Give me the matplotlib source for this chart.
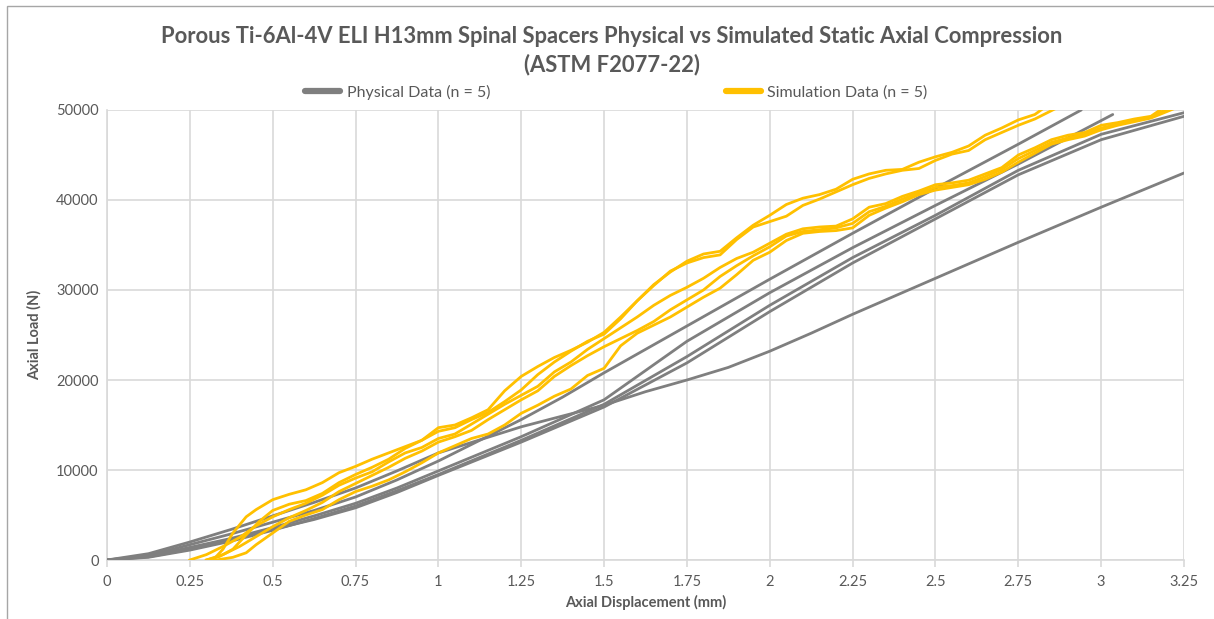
import numpy as np
import matplotlib.pyplot as plt
from matplotlib.lines import Line2D
from matplotlib.patches import Rectangle

plt.rcParams['font.family'] = ['Lato', 'DejaVu Sans']

TXT = '#595959'
GRID = '#d9d9d9'
GRAY = '#7f7f7f'
GOLD = '#ffc000'

# Physical test curves (displacement mm, load N)
phys_a_x = [0, 0.125, 0.25, 0.375, 0.5, 0.625, 0.75, 0.875, 1.0, 1.125, 1.25, 1.375, 1.5, 1.625, 1.75, 2.0, 2.25, 2.5, 2.75, 2.94]
phys_a_y = [0, 500, 1700, 2900, 4200, 5500, 7000, 8900, 11000, 13300, 15600, 18100, 20800, 23400, 26000, 31200, 36300, 41300, 46200, 50000]

phys_b_x = [0, 0.125, 0.25, 0.375, 0.5, 0.625, 0.75, 0.875, 1.0, 1.25, 1.5, 1.75, 2.0, 2.25, 2.5, 2.75, 3.035]
phys_b_y = [0, 400, 1400, 2400, 3600, 4900, 6300, 8000, 9900, 13700, 17800, 24300, 29700, 34700, 39400, 44000, 49500]

phys_c_x = [0, 0.125, 0.25, 0.375, 0.5, 0.625, 0.75, 0.875, 1.0, 1.25, 1.5, 1.75, 2.0, 2.25, 2.5, 2.75, 3.0, 3.25]
phys_c_y = [0, 300, 1100, 2100, 3300, 4600, 6000, 7700, 9500, 13300, 17300, 22600, 28300, 33600, 38300, 43300, 47300, 49700]

phys_d_x = [0, 0.125, 0.25, 0.375, 0.5, 0.625, 0.75, 0.875, 1.0, 1.25, 1.5, 1.75, 2.0, 2.25, 2.5, 2.75, 3.0, 3.25]
phys_d_y = [0, 350, 1200, 2200, 3400, 4500, 5800, 7500, 9400, 13100, 17000, 21900, 27600, 33000, 37900, 42800, 46700, 49300]

phys_e_x = [0, 0.125, 0.25, 0.375, 0.5, 0.625, 0.75, 0.875, 1.0, 1.25, 1.5, 1.625, 1.75, 1.875, 2.0, 2.125, 2.25, 2.5, 2.75, 3.0, 3.25]
phys_e_y = [0, 700, 2000, 3400, 4900, 6400, 8000, 9900, 11900, 14800, 17200, 18700, 20000, 21400, 23200, 25200, 27300, 31300, 35300, 39200, 43000]

# Simulation curves
sim1_x = [0.32, 0.35, 0.38, 0.42, 0.45, 0.5, 0.55, 0.6, 0.65, 0.7, 0.75, 0.8, 0.85, 0.9, 0.95, 1.0, 1.05, 1.1, 1.15, 1.2,
          1.25, 1.3, 1.35, 1.4, 1.45, 1.5, 1.55, 1.6, 1.65, 1.7, 1.75, 1.8, 1.85, 1.9, 1.95, 2.0, 2.05, 2.1, 2.15, 2.2,
          2.25, 2.3, 2.35, 2.4, 2.45, 2.5, 2.55, 2.6, 2.65, 2.7, 2.75, 2.8, 2.83]
sim1_y = [0, 1200, 3000, 4800, 5600, 6700, 7300, 7800, 8600, 9700, 10400, 11200, 11900, 12600, 13300, 14700, 15000, 15800, 16700, 18800,
          20400, 21500, 22500, 23300, 24200, 25300, 27000, 28800, 30600, 32000, 33200, 34000, 34300, 35800, 37200, 38300, 39500, 40200, 40600, 41200,
          42300, 42900, 43300, 43400, 44200, 44800, 45300, 46000, 47200, 48000, 48900, 49500, 50300]

sim2_x = [0.3, 0.34, 0.38, 0.42, 0.46, 0.5, 0.55, 0.6, 0.65, 0.7, 0.75, 0.8, 0.85, 0.9, 0.95, 1.0, 1.05, 1.1, 1.15, 1.2,
          1.25, 1.3, 1.35, 1.4, 1.45, 1.5, 1.55, 1.6, 1.65, 1.7, 1.75, 1.8, 1.85, 1.9, 1.95, 2.0, 2.05, 2.1, 2.15, 2.2,
          2.25, 2.3, 2.35, 2.4, 2.45, 2.5, 2.55, 2.6, 2.65, 2.7, 2.75, 2.8, 2.87]
sim2_y = [0, 400, 1200, 2800, 4300, 5500, 6200, 6600, 7400, 8600, 9500, 10300, 11200, 12400, 13300, 14300, 14700, 15600, 16400, 17600,
          18900, 20600, 22000, 23200, 24300, 25100, 26800, 28800, 30500, 32100, 33000, 33600, 33900, 35600, 37000, 37600, 38200, 39400, 40100, 40900,
          41700, 42400, 42900, 43300, 43500, 44400, 45100, 45500, 46700, 47500, 48300, 49000, 50300]

sim3_x = [0.25, 0.3, 0.35, 0.4, 0.45, 0.5, 0.55, 0.6, 0.65, 0.7, 0.75, 0.8, 0.85, 0.9, 0.95, 1.0, 1.05, 1.1, 1.15, 1.2,
          1.25, 1.3, 1.35, 1.4, 1.45, 1.5, 1.55, 1.6, 1.65, 1.7, 1.75, 1.8, 1.85, 1.9, 1.95, 2.0, 2.05, 2.1, 2.15, 2.2,
          2.25, 2.3, 2.35, 2.4, 2.45, 2.5, 2.55, 2.6, 2.65, 2.7, 2.75, 2.8, 2.85, 2.9, 2.95, 3.0, 3.05, 3.1, 3.15, 3.19]
sim3_y = [0, 600, 1500, 2500, 3800, 4800, 5600, 6300, 7200, 8300, 9100, 9800, 10900, 11900, 12500, 13500, 14000, 15100, 16200, 17300,
          18300, 19300, 20900, 22000, 23400, 24600, 25800, 27000, 28300, 29400, 30300, 31300, 32500, 33500, 34200, 35200, 36200, 36800, 37000, 37100,
          37900, 39200, 39600, 40400, 41000, 41700, 41900, 42200, 42900, 43600, 45000, 45800, 46700, 47200, 47500, 48300, 48600, 49000, 49300, 50300]

sim4_x = [0.3, 0.35, 0.4, 0.45, 0.5, 0.55, 0.6, 0.65, 0.7, 0.75, 0.8, 0.85, 0.9, 0.95, 1.0, 1.05, 1.1, 1.15, 1.2,
          1.25, 1.3, 1.35, 1.4, 1.45, 1.5, 1.55, 1.6, 1.65, 1.7, 1.75, 1.8, 1.85, 1.9, 1.95, 2.0, 2.05, 2.1, 2.15, 2.2,
          2.25, 2.3, 2.35, 2.4, 2.45, 2.5, 2.55, 2.6, 2.65, 2.7, 2.75, 2.8, 2.85, 2.9, 2.95, 3.0, 3.05, 3.1, 3.15, 3.21]
sim4_y = [0, 600, 1500, 2600, 3700, 4700, 5500, 6400, 7600, 8500, 9400, 10300, 11300, 12100, 13100, 13700, 14400, 15600, 16700,
          17800, 18800, 20400, 21600, 22700, 23700, 24600, 25500, 26500, 27800, 28900, 30000, 31500, 32700, 33800, 34800, 36000, 36500, 36700, 36900,
          37400, 38700, 39300, 40100, 40800, 41400, 41600, 41900, 42600, 43400, 44600, 45500, 46400, 46900, 47300, 48000, 48400, 48900, 49200, 50300]

sim5_x = [0.33, 0.38, 0.42, 0.45, 0.5, 0.55, 0.6, 0.65, 0.7, 0.75, 0.8, 0.85, 0.9, 0.95, 1.0, 1.05, 1.1, 1.15, 1.2,
          1.25, 1.3, 1.35, 1.4, 1.45, 1.5, 1.55, 1.6, 1.65, 1.7, 1.75, 1.8, 1.85, 1.9, 1.95, 2.0, 2.05, 2.1, 2.15, 2.2,
          2.25, 2.3, 2.35, 2.4, 2.45, 2.5, 2.55, 2.6, 2.65, 2.7, 2.75, 2.8, 2.85, 2.9, 2.95, 3.0, 3.05, 3.1, 3.15, 3.23]
sim5_y = [0, 300, 800, 1700, 3000, 4300, 5000, 5600, 6700, 7600, 8200, 8900, 9800, 10800, 11900, 12700, 13500, 14000, 15000,
          16300, 17200, 18200, 19000, 20500, 21300, 23800, 25200, 26100, 27000, 28100, 29200, 30200, 31700, 33300, 34200, 35500, 36300, 36500, 36600,
          36900, 38300, 39100, 39800, 40600, 41100, 41400, 41700, 42300, 43100, 44200, 45200, 46200, 46700, 47100, 47800, 48300, 48700, 49100, 50300]

physical = [(phys_a_x, phys_a_y), (phys_b_x, phys_b_y), (phys_c_x, phys_c_y), (phys_d_x, phys_d_y), (phys_e_x, phys_e_y)]
simulated = [(sim1_x, sim1_y), (sim2_x, sim2_y), (sim3_x, sim3_y), (sim4_x, sim4_y), (sim5_x, sim5_y)]

fig = plt.figure(figsize=(12.14, 6.19), dpi=100)
ax = fig.add_axes([107 / 1214, 59 / 619, 1077 / 1214, 450 / 619])

for xs, ys in physical:
    ax.plot(xs, ys, color=GRAY, lw=2.0, solid_capstyle='round', zorder=3)
for xs, ys in simulated:
    ax.plot(xs, ys, color=GOLD, lw=2.0, solid_joinstyle='round', zorder=4)

ax.set_xlim(0, 3.25)
ax.set_ylim(0, 50000)
ax.set_xticks(np.arange(0, 3.26, 0.25))
ax.set_xticklabels(['0', '0.25', '0.5', '0.75', '1', '1.25', '1.5', '1.75', '2', '2.25', '2.5', '2.75', '3', '3.25'])
ax.set_yticks(np.arange(0, 50001, 10000))
ax.grid(True, color=GRID, lw=1.2, zorder=0)
ax.set_axisbelow(True)
for side in ['top', 'right']:
    ax.spines[side].set_visible(False)
for side in ['left', 'bottom']:
    ax.spines[side].set_color(GRID)
    ax.spines[side].set_linewidth(1.2)
ax.tick_params(axis='x', colors=GRID, length=5, width=1.2, labelcolor=TXT, labelsize=10.5, pad=6)
ax.tick_params(axis='y', length=0, labelcolor=TXT, labelsize=10.5, pad=6)

ax.set_xlabel('Axial Displacement (mm)', color=TXT, fontsize=10.5, fontweight='bold', labelpad=4)
ax.set_ylabel('Axial Load (N)', color=TXT, fontsize=10.5, fontweight='bold', labelpad=10)

fig.text(0.504, 0.941, 'Porous Ti-6Al-4V ELI H13mm Spinal Spacers Physical vs Simulated Static Axial Compression',
         ha='center', va='center', color=TXT, fontsize=15.8, fontweight='bold')
fig.text(0.504, 0.896, '(ASTM F2077-22)', ha='center', va='center', color=TXT, fontsize=15.8, fontweight='bold')

handles = [Line2D([0], [0], color=GRAY, lw=4.5, solid_capstyle='round'),
           Line2D([0], [0], color=GOLD, lw=4.5, solid_capstyle='round')]
leg = fig.legend(handles, ['Physical Data (n = 5)', 'Simulation Data (n = 5)'], loc='center',
                 bbox_to_anchor=(0.5077, 0.851), ncol=2, frameon=False, fontsize=11.5,
                 handlelength=2.2, handletextpad=0.4, columnspacing=14.75)
for t in leg.get_texts():
    t.set_color(TXT)

fig.patches.append(Rectangle((7 / 1214, -0.05), 1.2, 1.04, transform=fig.transFigure,
                             fill=False, edgecolor='#a6a6a6', lw=1.0))

fig.savefig('out.png', dpi=100)
